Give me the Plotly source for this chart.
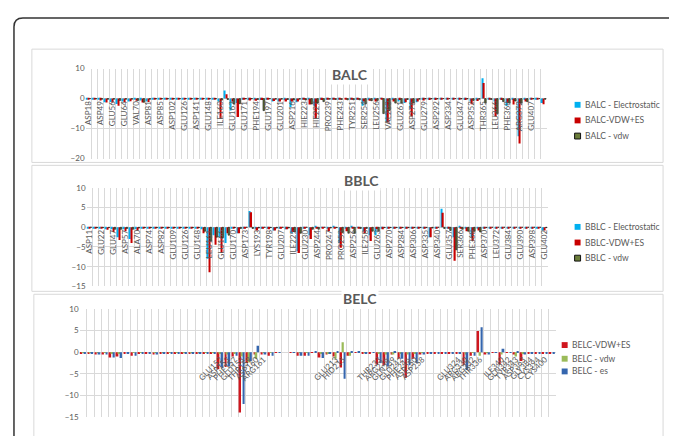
import plotly.graph_objects as go

# the page body adds an 8 px margin, so the figure is placed at (8, 8) in the 677x436 window
OFF = 8
W, H = 677 - OFF, 436 - OFF

# ---------------- DATA ----------------
# BALC : 77 residues, labels shown on every second one
balc_labels = ["ASP18", "ASP49", "GLU56", "GLU64", "VAL70", "ASP81", "ASP85", "ASP102", "GLU126",
               "ASP141", "GLU148", "ILE160", "GLU163", "GLU171", "PHE194", "GLU197", "GLU201",
               "ASP216", "HIE223", "HIE227", "PRO239", "PHE243", "TYR251", "SER254", "LEU256",
               "VAL260", "GLU261", "ASP276", "GLU279", "ASP292", "ASP334", "GLU347", "ASP352",
               "THR365", "LEU366", "PHE368", "ARG372", "GLU407", ""]
balc_es = [-0.2, -0.3, -0.4, -1.2, -1.1, -1.8, -1.0, -1.0, -0.3, -0.6, -1.0, -0.3, -0.3, -0.3, -0.3, -0.2,
           -0.1, -0.2, -0.2, -0.1, -0.2, -0.2, -1.0, 2.7, -4.0, -1.5, -0.3, -0.5, -0.3, -0.5, -0.2, -1.0,
           -1.0, -0.5, -2.8, -1.2, -0.2, -0.3, -2.5, -0.3, -0.2, -0.1, -0.2, 0.0, -0.1, -0.2, -2.4, -0.5,
           -0.3, 0.2, -7.7, -0.5, -1.0, -1.5, -3.5, -1.2, -0.5, -0.4, -0.4, -0.3, -0.3, -0.2, -0.3, -0.5,
           -1.0, -0.6, 6.8, -0.3, -1.0, -0.3, -2.5, -0.5, -12.6, -0.5, -0.2, -0.3, -1.5]
balc_tot = [-0.2, -0.4, -0.6, -1.3, -1.3, -2.4, -1.1, -0.9, -0.7, -1.3, -1.1, -0.4, -0.3, -0.4, -0.3, -0.3,
            -0.2, -0.3, -0.3, -0.2, -0.3, -0.3, -6.7, 1.5, -1.0, -6.1, -0.4, -0.6, -0.7, -0.5, -0.3, -0.8,
            -1.0, -1.0, -1.0, -1.0, -0.3, -2.0, -6.7, -0.5, -0.3, -0.3, -0.2, -0.1, -0.2, -0.3, -1.0, -0.7,
            -1.0, -0.3, -8.0, -1.0, -0.5, -1.2, -6.0, -1.0, -0.6, -0.5, -0.5, -0.4, -0.3, -0.3, -0.4, -0.5,
            -1.9, -0.8, 5.2, -0.4, -6.0, -0.5, -1.5, -2.0, -15.0, -1.0, -0.3, -0.4, -1.9]
balc_vdw = [0.0, -0.1, -0.2, -0.2, -0.2, -0.6, -0.2, -0.2, -0.6, -1.2, -0.2, -0.1, -0.1, -0.1, -0.1, -0.1,
            0.0, -0.1, -0.1, 0.0, -0.1, -0.1, -0.5, -0.3, -1.8, -1.7, -0.1, -0.1, -0.3, -4.0, -0.1, -0.2,
            -0.2, -0.3, -0.5, -0.2, -0.5, -1.8, -1.5, -1.0, -0.2, -0.3, -0.3, -0.4, -0.4, -0.4, -1.8, -0.7,
            -0.6, -5.0, -4.0, -1.5, -1.5, -0.3, -1.5, -0.2, -0.1, -0.1, -0.1, 0.0, 0.0, 0.0, -0.1, -0.1,
            -0.6, -0.2, -1.5, -0.3, -5.0, -1.0, -1.5, -0.8, -1.5, -1.0, -0.1, 0.0, -0.2]

# BBLC : 77 residues
bblc_labels = ["ASP11", "GLU22", "GLU47", "ASP57", "ALA70", "ASP74", "ASP82", "GLU109", "GLU126",
               "GLU148", "LEU161", "GLU166", "GLU170", "ASP173", "LYS193", "TYR198", "GLU207",
               "ILE225", "GLU230", "ASP244", "PRO247", "PRO253", "ASP256", "ILE258", "GLU263",
               "ASP270", "ASP284", "ASP306", "ASP335", "ASP340", "GLU357", "SER366", "PHE368",
               "ASP370", "LEU372", "GLU384", "GLU390", "ASP398", "GLU402"]
bblc_es = [-0.2, -0.2, -0.3, -0.5, -0.5, -2.5, -0.5, -3.0, -0.5, -0.2, -0.2, -0.2, -0.2, -0.2, -0.2, -0.2,
           -0.2, -0.2, -0.2, -0.5, -8.0, -2.0, -2.6, -4.0, -0.2, -1.5, -0.2, 4.1, -0.3, -0.2, -0.3, -0.8,
           -0.2, -0.5, -1.5, -6.0, -0.2, -2.0, 0.2, -0.1, -0.3, 0.3, -4.0, -0.3, 0.3, -0.1, -1.0, -2.0,
           -2.0, -0.2, -0.2, -0.2, -0.2, -0.2, -0.2, -0.2, -0.2, -2.5, -0.2, 4.7, -0.2, -2.5, 0.3, -0.3,
           -2.5, -0.3, -0.2, -0.2, -0.2, -0.2, -0.2, -0.2, -0.2, -0.2, -0.2, -0.2, -0.8]
bblc_tot = [-0.3, -0.3, -0.3, -0.6, -1.2, -3.2, -1.0, -4.0, -0.8, -0.3, -0.3, -0.3, -0.3, -0.3, -0.3, -0.3,
            -0.3, -0.3, -0.3, -1.5, -11.4, -4.4, -6.5, -1.5, -0.3, -1.5, -0.2, 3.8, -0.8, -0.2, -0.5, -0.8,
            -0.2, -0.5, -1.2, -6.5, -0.2, -3.0, -0.2, -0.2, -1.0, -0.2, -5.2, -1.0, -0.3, -0.2, -1.5, -3.5,
            -0.5, -0.5, -0.3, -0.3, -0.3, -0.3, -0.3, -0.3, -0.3, -2.5, -0.3, 3.7, -0.3, -8.5, -0.2, -1.0,
            -3.5, -0.8, -0.3, -0.2, -0.2, -0.2, -0.2, -0.2, -0.2, -0.2, -0.2, -0.2, -0.8]
bblc_vdw = [0.0, -0.1, -0.1, -0.1, -0.5, -0.5, -0.3, -0.5, -0.2, -0.1, -0.1, -0.1, -0.1, -0.1, -0.1, -0.1,
            -0.1, -0.1, -0.1, -1.0, -3.5, -2.5, -2.6, -2.0, -0.1, -0.3, 0.0, -0.3, -0.2, 0.0, -0.1, -0.2,
            0.0, -0.2, -1.2, -1.5, 0.0, -0.5, -0.5, 0.0, -0.2, -0.1, -1.3, -1.5, -1.5, -0.3, -0.3, -1.0,
            -1.0, -0.1, -0.1, -0.1, -0.1, -0.1, -0.1, -0.1, -0.1, -0.2, 0.0, -0.3, -0.8, -5.7, -0.5, -1.0,
            -1.0, -1.2, -0.1, 0.0, 0.0, 0.0, 0.0, 0.0, 0.0, 0.0, 0.0, 0.0, -0.1]

# BELC : 66 residues, only some of them labelled
belc_label_pos = [19, 20, 21, 22, 23, 24, 25, 35, 36, 41, 42, 43, 44, 45, 46, 47,
                  52, 53, 54, 55, 58, 59, 60, 61, 62, 63, 64]
belc_labels = ["GLU152", "ASP153", "PHE157", "GLU158", "THR159", "ASP160", "ARG161", "GLU213", "HID215",
               "THR233", "ARG236", "GLN239", "GLU242", "PHE246", "ASP250", "ASP258",
               "GLU324", "ARG330", "ARG332", "THR336", "ILE340", "GLN342", "TYR343", "ASP363",
               "GLY384", "CYS394", "CYS400"]
belc_tot = [-0.3, -0.3, -0.5, -0.5, -1.2, -1.0, -0.2, -0.8, -0.3, -0.3, -0.5, -0.4, -0.4, -0.4, -0.4, -0.4,
            -0.4, -0.4, -0.4, -3.9, -3.4, -1.0, -13.9, -2.5, -0.5, -0.5, -0.8, -0.1, 0.0, -0.1, -0.8, -0.8,
            -0.1, -1.2, -0.5, -1.0, -3.5, -0.8, -0.1, -0.4, -0.2, -2.8, -3.0, -0.5, -1.5, -5.9, -1.5, -0.5,
            -0.3, -0.2, -0.2, -0.2, -0.2, -3.0, -0.8, 4.9, -0.5, -0.1, -2.8, -0.1, -0.5, -2.0, -0.3, -0.3,
            -0.3, -0.3]
belc_vdw = [-0.1, -0.1, -0.1, -0.1, -0.2, -0.2, 0.0, -0.1, -0.1, 0.0, -0.1, -0.1, -0.1, -0.1, -0.1, -0.1,
            -0.1, -0.1, -0.1, -0.3, -0.5, -0.3, -1.0, -2.3, -1.5, -0.1, -0.1, 0.0, 0.0, 0.0, -0.1, -0.1,
            0.0, -0.2, -0.2, -1.5, 2.3, -0.8, 0.0, -0.1, 0.0, -0.3, -0.5, -0.5, -0.3, -0.5, -0.3, -0.1,
            0.0, 0.0, 0.0, 0.0, 0.0, -0.5, -0.1, -0.8, -0.1, 0.0, -0.5, 0.0, -1.0, -0.3, 0.0, 0.0,
            0.0, 0.0]
belc_es = [-0.3, -0.3, -0.5, -0.5, -1.2, -1.3, -0.2, -0.8, -0.3, -0.3, -0.5, -0.4, -0.4, -0.4, -0.4, -0.4,
           -0.4, -0.4, -0.4, -3.5, -3.3, -0.8, -11.9, -2.0, 1.5, -0.5, -0.8, -0.1, 0.0, -0.1, -0.8, -0.8,
           0.3, -1.3, -0.3, 0.3, -6.1, 0.2, 0.3, -0.3, -0.1, -2.5, -3.3, 0.1, -1.5, -3.0, -2.5, -0.5,
           -0.3, -0.2, -0.2, -0.2, -0.2, -4.1, -0.8, 5.8, -0.5, -0.1, 0.8, -0.1, 0.2, -0.5, -0.3, -0.3,
           -0.3, -0.3]

# ---------------- STYLE ----------------
GRID = "#d9d9d9"
TXT = "#595959"
FONT = "Lato"
C_ES = "#00B0F0"
C_TOT = "#C80000"
C_VDW = "#6B7D3A"
E_TOT = "#D0161E"
E_VDW = "#9BBB59"
E_ES = "#3566AE"


def px(x):
    return (x - OFF) / W


def py(y):
    return 1 - (y - OFF) / H


fig = go.Figure()

panels = [
    dict(key="", n=len(balc_es), px0=84, px1=548, py0=65, py1=157, rng=[-20, 10], dt=10,
         tickvals=list(range(0, len(balc_es), 2)), ticktext=balc_labels, angle=-90,
         series=[("BALC - Electrostatic", balc_es, C_ES, None),
                 ("BALC-VDW+ES", balc_tot, C_TOT, None),
                 ("BALC - vdw", balc_vdw, C_VDW, "#111111")],
         title="BALC", tx=350, ty=60, lx=576, ly=[102, 118, 134]),
    dict(key="2", n=len(bblc_es), px0=85, px1=549, py0=187, py1=288, rng=[-15, 10], dt=5,
         tickvals=list(range(0, len(bblc_es), 2)), ticktext=bblc_labels, angle=-90,
         series=[("BBLC - Electrostatic", bblc_es, C_ES, None),
                 ("BBLC-VDW+ES", bblc_tot, C_TOT, None),
                 ("BBLC - vdw", bblc_vdw, C_VDW, "#111111")],
         title="BBLC", tx=362, ty=180, lx=576, ly=[227, 243, 259]),
    dict(key="3", n=len(belc_tot), px0=78, px1=557, py0=311, py1=422, rng=[-15, 10], dt=5,
         tickvals=belc_label_pos, ticktext=belc_labels, angle=-45,
         series=[("BELC-VDW+ES", belc_tot, E_TOT, None),
                 ("BELC - vdw", belc_vdw, E_VDW, None),
                 ("BELC - es", belc_es, E_ES, None)],
         title="BELC", tx=360, ty=311, lx=563, ly=[348, 362, 375]),
]

shapes = []
annotations = []

for p in panels:
    k = p["key"]
    n = p["n"]
    xs = list(range(n))
    for name, vals, col, lc in p["series"]:
        fig.add_trace(go.Bar(
            x=xs, y=vals, name=name, showlegend=False,
            marker=dict(color=col, line=dict(width=0.6 if lc else 0, color=lc or col)),
            xaxis="x" + k, yaxis="y" + k))
    y_lo, y_hi = p["rng"]
    dom_y = [py(p["py1"]), py(p["py0"])]
    zero_pos = dom_y[0] + (0 - y_lo) / (y_hi - y_lo) * (dom_y[1] - dom_y[0])
    fig.update_layout(**{
        "xaxis" + k: dict(
            domain=[px(p["px0"]), px(p["px1"])], range=[-0.5, n - 0.5],
            anchor="free", position=zero_pos,
            tickmode="array", tickvals=p["tickvals"], ticktext=p["ticktext"],
            tickangle=p["angle"], tickfont=dict(size=8, color=TXT, family=FONT),
            showgrid=False, zeroline=False, showline=False, ticks="",
            minor=dict(tickmode="array", tickvals=[i - 0.5 for i in range(n + 1)],
                       showgrid=True, gridcolor=GRID, gridwidth=1, ticks=""),
            fixedrange=True),
        "yaxis" + k: dict(
            domain=dom_y, range=p["rng"], tickmode="linear", tick0=0, dtick=p["dt"],
            showgrid=True, gridcolor=GRID, gridwidth=1, zeroline=False, showline=False,
            ticks="", tickfont=dict(size=8, color=TXT, family=FONT),
            anchor="x" + k, fixedrange=True),
    })
    annotations.append(dict(text="<b>" + p["title"] + "</b>", x=px(p["tx"]), y=py(p["ty"]),
                            xref="paper", yref="paper", showarrow=False, bgcolor="white",
                            font=dict(size=14, color=TXT, family=FONT)))
    for (name, vals, col, lc), ly in zip(p["series"], p["ly"]):
        shapes.append(dict(type="rect", xref="paper", yref="paper",
                           x0=px(p["lx"]), x1=px(p["lx"] + 6), y0=py(ly + 3), y1=py(ly - 3),
                           fillcolor=col, line=dict(color=lc or col, width=1 if lc else 0)))
        annotations.append(dict(text=name, x=px(p["lx"] + 8), y=py(ly), xref="paper", yref="paper",
                                xanchor="left", yanchor="middle", showarrow=False,
                                font=dict(size=8.5, color=TXT, family=FONT)))

# panel frames
for (x0, y0, x1, y1) in [(30, 45, 665, 161), (30, 164, 665, 293), (32, 296, 665, 445)]:
    shapes.append(dict(type="rect", xref="paper", yref="paper", x0=px(x0), x1=px(x1),
                       y0=py(y1), y1=py(y0), line=dict(color="#d9d9d9", width=1), layer="below"))

# outer rounded border
path = "M {a},{b} L {a},{c} Q {a},{d} {e},{d} L {f},{d}".format(
    a=px(12), b=py(445), c=py(22), d=py(13), e=px(21), f=px(700))
shapes.append(dict(type="path", xref="paper", yref="paper", path=path,
                   line=dict(color="#333333", width=1.5)))

fig.update_layout(
    width=W, height=H, margin=dict(l=0, r=0, t=0, b=0),
    paper_bgcolor="white", plot_bgcolor="rgba(0,0,0,0)",
    barmode="group", bargap=0.25, bargroupgap=0,
    showlegend=False, shapes=shapes, annotations=annotations,
    font=dict(family=FONT, color=TXT),
)

fig.write_html("out.html")
